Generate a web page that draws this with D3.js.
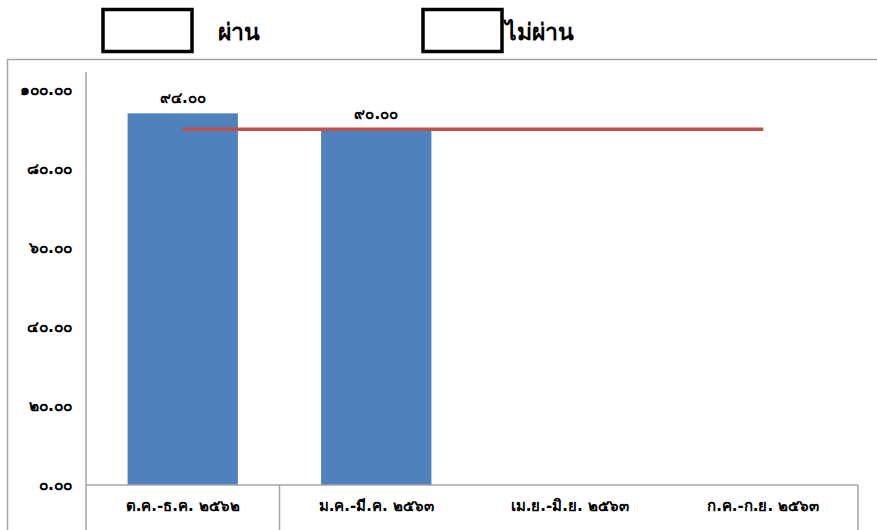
<!DOCTYPE html>
<html><head><meta charset="utf-8">
<script src="https://cdn.jsdelivr.net/npm/d3@7"></script>
<style>
html,body{margin:0;padding:0;background:#fff;}
svg{display:block;}
</style></head>
<body>
<svg id="chart" width="877" height="530"></svg>
<script>
const categories = ["ต.ค.-ธ.ค. ๒๕๖๒", "ม.ค.-มี.ค. ๒๕๖๓", "เม.ย.-มิ.ย. ๒๕๖๓", "ก.ค.-ก.ย. ๒๕๖๓"];
const values = [94, 90, null, null];
const target = [90, 90, 90, 90];
const yTicks = [0, 20, 40, 60, 80, 100];
const legendLabels = ["ผ่าน", "ไม่ผ่าน"];

const thaiDigits = "๐๑๒๓๔๕๖๗๘๙";
const toThai = s => String(s).replace(/[0-9]/g, d => thaiDigits[+d]);
const fmt = v => toThai(v.toFixed(2));

const svg = d3.select("#chart");
const font = "'DejaVu Sans', 'Noto Sans', sans-serif";
const fs = 15;

// outer frame
svg.append("rect").attr("x", 7.5).attr("y", 59.5).attr("width", 900).attr("height", 500)
  .attr("fill", "none").attr("stroke", "#a6a6a6").attr("stroke-width", 1.5);

const x = d3.scaleBand().domain(categories).range([86, 860]).paddingInner(0).paddingOuter(0);
const y = d3.scaleLinear().domain([0, 100]).range([485, 89.6]);

// bars
svg.selectAll("rect.bar").data(categories.map((c, i) => ({c, v: values[i]})).filter(d => d.v != null))
  .enter().append("rect").attr("class", "bar")
  .attr("x", d => x(d.c) + x.bandwidth() * 0.215)
  .attr("width", x.bandwidth() * 0.57)
  .attr("y", d => y(d.v))
  .attr("height", d => y(0) - y(d.v))
  .attr("fill", "#4f81bd");

// y axis
const yAxis = d3.axisLeft(y).tickValues(yTicks).tickSize(0).tickPadding(14).tickFormat(fmt);
const gy = svg.append("g").attr("transform", "translate(86,0)").call(yAxis);
gy.select(".domain").remove();
gy.selectAll("text").attr("font-family", font).attr("font-size", 15.5).attr("font-weight", "bold").attr("fill", "#000").attr("dy", "0.3em");
svg.append("line").attr("x1", 86).attr("x2", 86).attr("y1", 72).attr("y2", 530).attr("stroke", "#a6a6a6").attr("stroke-width", 1.5);

// x axis
const xAxis = d3.axisBottom(x).tickSize(0).tickPadding(15);
const gx = svg.append("g").attr("transform", "translate(0,485)").call(xAxis);
gx.select(".domain").remove();
gx.selectAll("text").attr("font-family", font).attr("font-size", fs).attr("font-weight", "bold").attr("fill", "#000");
svg.append("line").attr("x1", 86).attr("x2", 858).attr("y1", 485).attr("y2", 485).attr("stroke", "#a6a6a6").attr("stroke-width", 1.5);
[x(categories[1]), 858].forEach(px => {
  svg.append("line").attr("x1", px).attr("x2", px).attr("y1", 485).attr("y2", 530).attr("stroke", "#a6a6a6").attr("stroke-width", 1.5);
});

// target line
const line = d3.line().x((d, i) => x(categories[i]) + x.bandwidth() / 2).y(d => y(d));
svg.append("path").datum(target).attr("d", line).attr("fill", "none")
  .attr("stroke", "#c0504d").attr("stroke-width", 3.5);

// data labels
svg.selectAll("text.lbl").data(categories.map((c, i) => ({c, v: values[i]})).filter(d => d.v != null))
  .enter().append("text").attr("class", "lbl")
  .attr("x", d => x(d.c) + x.bandwidth() / 2)
  .attr("y", d => y(d.v) - 10)
  .attr("text-anchor", "middle")
  .attr("font-family", font).attr("font-size", fs).attr("font-weight", "bold")
  .text(d => fmt(d.v));

// legend
const legX = [103, 423], legW = [89, 79], legT = [218, 505];
legendLabels.forEach((l, i) => {
  svg.append("rect").attr("x", legX[i]).attr("y", 9.5).attr("width", legW[i]).attr("height", 42)
    .attr("fill", "#fff").attr("stroke", "#000").attr("stroke-width", 3.5);
  svg.append("text").attr("x", legT[i]).attr("y", 40).attr("font-family", font)
    .attr("font-size", 23).attr("font-weight", "bold").text(l);
});
</script>
</body></html>
